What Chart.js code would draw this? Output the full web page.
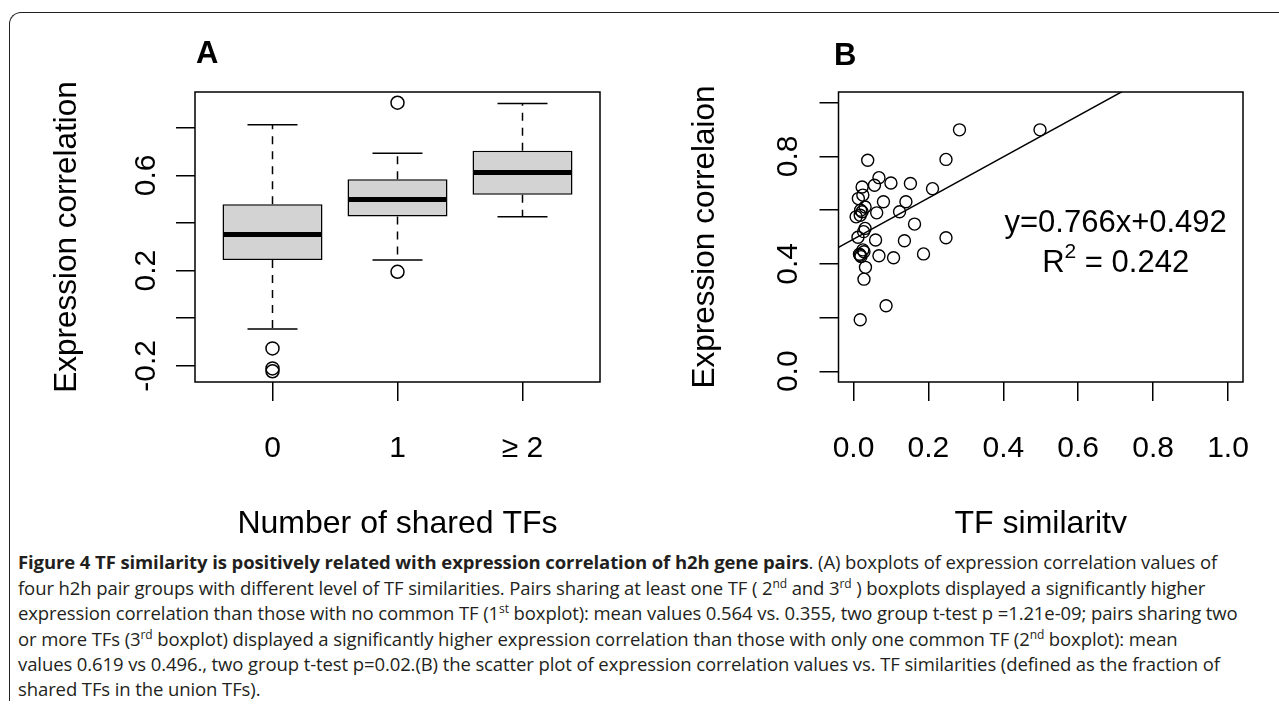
<!DOCTYPE html>
<html>
<head>
<meta charset="utf-8">
<script src="https://cdn.jsdelivr.net/npm/chart.js@4.4.1/dist/chart.umd.min.js"></script>
<style>
  html, body { margin: 0; padding: 0; background: #fff; }
  body { width: 1279px; height: 709px; position: relative; overflow: hidden; }
  .frame { position: absolute; left: 9px; top: 12px; width: 1300px; height: 688px;
           border-left: 1.5px solid #222; border-top: 1.5px solid #222; border-top-left-radius: 12px; }
  .panel { position: absolute; top: 0; height: 533px; }
  #panelA { left: 0; width: 640px; }
  #panelB { left: 640px; width: 639px; }
  .caption { position: absolute; left: 18px; font-family: 'Open Sans', sans-serif; font-size: 18.5px;
             color: #231f20; white-space: nowrap; line-height: 22px; letter-spacing: -0.1px; }
  .caption sup { font-size: 12px; line-height: 0; vertical-align: 7px; }
</style>
</head>
<body>
<div class="frame"></div>
<div class="panel" id="panelA"><canvas id="chartA"></canvas></div>
<div class="panel" id="panelB"><canvas id="chartB"></canvas></div>

<div class="caption" style="top:551px"><b>Figure 4 TF similarity is positively related with expression correlation of h2h gene pairs</b>. (A) boxplots of expression correlation values of</div>
<div class="caption" style="top:577px">four h2h pair groups with different level of TF similarities. Pairs sharing at least one TF ( 2<sup>nd</sup> and 3<sup>rd</sup> ) boxplots displayed a significantly higher</div>
<div class="caption" style="top:602px">expression correlation than those with no common TF (1<sup>st</sup> boxplot): mean values 0.564 vs. 0.355, two group t-test p =1.21e-09; pairs sharing two</div>
<div class="caption" style="top:628px">or more TFs (3<sup>rd</sup> boxplot) displayed a significantly higher expression correlation than those with only one common TF (2<sup>nd</sup> boxplot): mean</div>
<div class="caption" style="top:653px">values 0.619 vs 0.496., two group t-test p=0.02.(B) the scatter plot of expression correlation values vs. TF similarities (defined as the fraction of</div>
<div class="caption" style="top:678px">shared TFs in the union TFs).</div>

<script>
// --- panel A : boxplots ---
const boxCategories = ['0', '1', '\u2265 2'];
const boxPositions = [1, 2, 3];
const boxLowerWhisker = [-0.045, 0.244, 0.426];
const boxQ1 = [0.244, 0.427, 0.518];
const boxMedian = [0.352, 0.499, 0.612];
const boxQ3 = [0.479, 0.584, 0.703];
const boxUpperWhisker = [0.812, 0.693, 0.902];
const outlierGroup = [1, 1, 1, 2, 2];
const outlierValues = [-0.127, -0.211, -0.223, 0.905, 0.195];
const boxYTicks = [-0.2, 0, 0.2, 0.4, 0.6, 0.8];
const boxYTickLabels = ['-0.2', '', '0.2', '', '0.6', ''];

// --- panel B : scatter ---
const tfSimilarity = [0.283, 0.498, 0.247, 0.038, 0.068, 0.056, 0.100, 0.152, 0.211, 0.023,
  0.025, 0.013, 0.080, 0.140, 0.031, 0.023, 0.007, 0.018, 0.062, 0.123,
  0.163, 0.031, 0.027, 0.012, 0.059, 0.136, 0.247, 0.025, 0.016, 0.020,
  0.068, 0.107, 0.187, 0.032, 0.028, 0.087, 0.018, 0.028, 0.018, 0.019];
const exprCorrelation = [0.899, 0.899, 0.789, 0.786, 0.721, 0.693, 0.701, 0.699, 0.680, 0.686,
  0.656, 0.643, 0.631, 0.631, 0.612, 0.594, 0.575, 0.581, 0.590, 0.594,
  0.548, 0.532, 0.520, 0.499, 0.489, 0.486, 0.497, 0.452, 0.436, 0.427,
  0.430, 0.423, 0.437, 0.387, 0.343, 0.244, 0.192, 0.445, 0.432, 0.600];
const fitSlope = 0.766;
const fitIntercept = 0.492;
const fitR2 = 0.242;
const scatterXTicks = [0, 0.2, 0.4, 0.6, 0.8, 1.0];
const scatterXTickLabels = ['0.0', '0.2', '0.4', '0.6', '0.8', '1.0'];
const scatterYTicks = [0, 0.2, 0.4, 0.6, 0.8, 1.0];
const scatterYTickLabels = ['0.0', '', '0.4', '', '0.8', ''];

const FONT = "'Liberation Sans', Arial, sans-serif";

//texto vertical (como en R, paralelo al eje)
function textUp(ctx, txt, x, y, font) {
    ctx.save();
    ctx.translate(x, y);
    ctx.rotate(-Math.PI / 2);
    ctx.font = font;
    ctx.textAlign = 'center';
    ctx.textBaseline = 'alphabetic';
    ctx.fillText(txt, 0, 0);
    ctx.restore();
}

function axisScale(min, max, ticks, size, pos) {
    return {
        type: 'linear', min: min, max: max, position: pos, offset: false,
        afterBuildTicks: (s) => { s.ticks = ticks.map(v => ({ value: v })); },
        afterFit: (s) => { if (pos === 'left') s.width = size; else s.height = size; },
        ticks: { display: false },
        border: { display: false },
        grid: { offset: false, drawOnChartArea: false, drawTicks: true, tickLength: 19, color: '#000', lineWidth: 1.5 }
    };
}

function drawFrame(chart) {
    const a = chart.chartArea;
    const ctx = chart.ctx;
    ctx.save();
    ctx.strokeStyle = '#000';
    ctx.lineWidth = 1.5;
    ctx.strokeRect(a.left, a.top, a.right - a.left, a.bottom - a.top);
    ctx.restore();
}

const boxPlugin = {
    id: 'boxPlugin',
    beforeDatasetsDraw(chart) {
        const ctx = chart.ctx, xs = chart.scales.x, ys = chart.scales.y;
        ctx.save();
        ctx.strokeStyle = '#000';
        ctx.lineWidth = 1.5;
        boxPositions.forEach((p, i) => {
            const x = xs.getPixelForValue(p);
            ctx.setLineDash([8, 7]);
            ctx.beginPath();
            ctx.moveTo(x, ys.getPixelForValue(boxQ1[i]));
            ctx.lineTo(x, ys.getPixelForValue(boxLowerWhisker[i]));
            ctx.moveTo(x, ys.getPixelForValue(boxQ3[i]));
            ctx.lineTo(x, ys.getPixelForValue(boxUpperWhisker[i]));
            ctx.stroke();
            ctx.setLineDash([]);
            ctx.beginPath();
            [boxLowerWhisker[i], boxUpperWhisker[i]].forEach(v => {
                const y = ys.getPixelForValue(v);
                ctx.moveTo(xs.getPixelForValue(p - 0.2), y);
                ctx.lineTo(xs.getPixelForValue(p + 0.2), y);
            });
            ctx.stroke();
        });
        ctx.restore();
    },
    afterDatasetsDraw(chart) {
        const ctx = chart.ctx, xs = chart.scales.x, ys = chart.scales.y;
        ctx.save();
        ctx.strokeStyle = '#000';
        ctx.lineWidth = 5;
        boxPositions.forEach((p, i) => {
            const y = ys.getPixelForValue(boxMedian[i]);
            ctx.beginPath();
            ctx.moveTo(xs.getPixelForValue(p - 0.4) + 1, y);
            ctx.lineTo(xs.getPixelForValue(p + 0.4) - 1, y);
            ctx.stroke();
        });
        ctx.restore();
        drawFrame(chart);
    },
    afterDraw(chart) {
        const ctx = chart.ctx, xs = chart.scales.x, ys = chart.scales.y;
        ctx.save();
        ctx.fillStyle = '#000';
        boxYTicks.forEach((v, i) => {
            if (boxYTickLabels[i]) textUp(ctx, boxYTickLabels[i], 155, ys.getPixelForValue(v), '30px ' + FONT);
        });
        ctx.font = '30px ' + FONT;
        ctx.textAlign = 'center';
        ctx.textBaseline = 'alphabetic';
        boxPositions.forEach((p, i) => ctx.fillText(boxCategories[i], xs.getPixelForValue(p), 457));
        ctx.font = '32px ' + FONT;
        const a = chart.chartArea;
        ctx.fillText('Number of shared TFs', (a.left + a.right) / 2, 533);
        textUp(ctx, 'Expression correlation', 76, (a.top + a.bottom) / 2, '31.5px ' + FONT);
        ctx.font = 'bold 31px ' + FONT;
        ctx.textAlign = 'left';
        ctx.fillText('A', 196, 63);
        ctx.restore();
    }
};

const chartA = new Chart(document.getElementById('chartA'), {
    type: 'bar',
    data: {
        datasets: [{
            type: 'scatter',
            data: outlierValues.map((v, i) => ({ x: boxPositions[outlierGroup[i] - 1], y: v })),
            pointRadius: 6.5,
            pointBorderWidth: 1.5,
            pointBorderColor: '#000',
            pointBackgroundColor: 'rgba(0,0,0,0)'
        }, {
            type: 'bar',
            data: boxPositions.map((p, i) => ({ x: p, y: [boxQ1[i], boxQ3[i]] })),
            backgroundColor: '#d3d3d3',
            borderColor: '#000',
            borderWidth: 1.5,
            borderSkipped: false,
            categoryPercentage: 1,
            barPercentage: 0.8
        }]
    },
    options: {
        responsive: true,
        maintainAspectRatio: false,
        animation: false,
        events: [],
        layout: { padding: { left: 0, top: 92, right: 40, bottom: 0 } },
        plugins: { legend: { display: false }, tooltip: { enabled: false } },
        scales: {
            x: axisScale(0.38, 3.62, boxPositions, 151, 'bottom'),
            y: axisScale(-0.268, 0.95, boxYTicks, 195, 'left')
        }
    },
    plugins: [boxPlugin]
});

const scatterPlugin = {
    id: 'scatterPlugin',
    afterDatasetsDraw(chart) { drawFrame(chart); },
    afterDraw(chart) {
        const ctx = chart.ctx, xs = chart.scales.x, ys = chart.scales.y;
        const a = chart.chartArea;
        ctx.save();
        ctx.fillStyle = '#000';
        scatterYTicks.forEach((v, i) => {
            if (scatterYTickLabels[i]) textUp(ctx, scatterYTickLabels[i], 157, ys.getPixelForValue(v), '30px ' + FONT);
        });
        ctx.font = '30px ' + FONT;
        ctx.textAlign = 'center';
        ctx.textBaseline = 'alphabetic';
        scatterXTicks.forEach((v, i) => ctx.fillText(scatterXTickLabels[i], xs.getPixelForValue(v), 457));
        ctx.font = '32px ' + FONT;
        ctx.fillText('TF similarity', (a.left + a.right) / 2, 533);
        textUp(ctx, 'Expression correlaion', 74, (a.top + a.bottom) / 2, '31.5px ' + FONT);
        ctx.font = 'bold 31px ' + FONT;
        ctx.textAlign = 'left';
        ctx.fillText('B', 194, 65);

        // ecuacion de la recta y R^2
        const cx = xs.getPixelForValue(0.7);
        ctx.font = '31px ' + FONT;
        ctx.textAlign = 'center';
        ctx.textBaseline = 'middle';
        ctx.fillText('y=' + fitSlope + 'x+' + fitIntercept, cx, ys.getPixelForValue(0.55));
        const y2 = ys.getPixelForValue(0.4);
        const rW = ctx.measureText('R').width;
        ctx.font = '21px ' + FONT;
        const sW = ctx.measureText('2').width;
        ctx.font = '31px ' + FONT;
        const rest = ' = ' + fitR2;
        const restW = ctx.measureText(rest).width;
        let x0 = cx - (rW + sW + restW) / 2;
        ctx.textAlign = 'left';
        ctx.fillText('R', x0, y2);
        ctx.font = '21px ' + FONT;
        ctx.fillText('2', x0 + rW, y2 - 12);
        ctx.font = '31px ' + FONT;
        ctx.fillText(rest, x0 + rW + sW, y2);
        ctx.restore();
    }
};

const chartB = new Chart(document.getElementById('chartB'), {
    type: 'scatter',
    data: {
        datasets: [{
            type: 'line',
            data: [-0.04, 1.04].map(x => ({ x: x, y: fitIntercept + fitSlope * x })),
            borderColor: '#000',
            borderWidth: 1.5,
            pointRadius: 0,
            clip: 0
        }, {
            data: tfSimilarity.map((x, i) => ({ x: x, y: exprCorrelation[i] })),
            pointRadius: 6,
            pointBorderWidth: 1.4,
            pointBorderColor: '#000',
            pointBackgroundColor: 'rgba(0,0,0,0)'
        }]
    },
    options: {
        responsive: true,
        maintainAspectRatio: false,
        animation: false,
        events: [],
        layout: { padding: { left: 0, top: 92, right: 36, bottom: 0 } },
        plugins: { legend: { display: false }, tooltip: { enabled: false } },
        scales: {
            x: axisScale(-0.04, 1.04, scatterXTicks, 151, 'bottom'),
            y: axisScale(-0.04, 1.04, scatterYTicks, 198.5, 'left')
        }
    },
    plugins: [scatterPlugin]
});
</script>
</body>
</html>
